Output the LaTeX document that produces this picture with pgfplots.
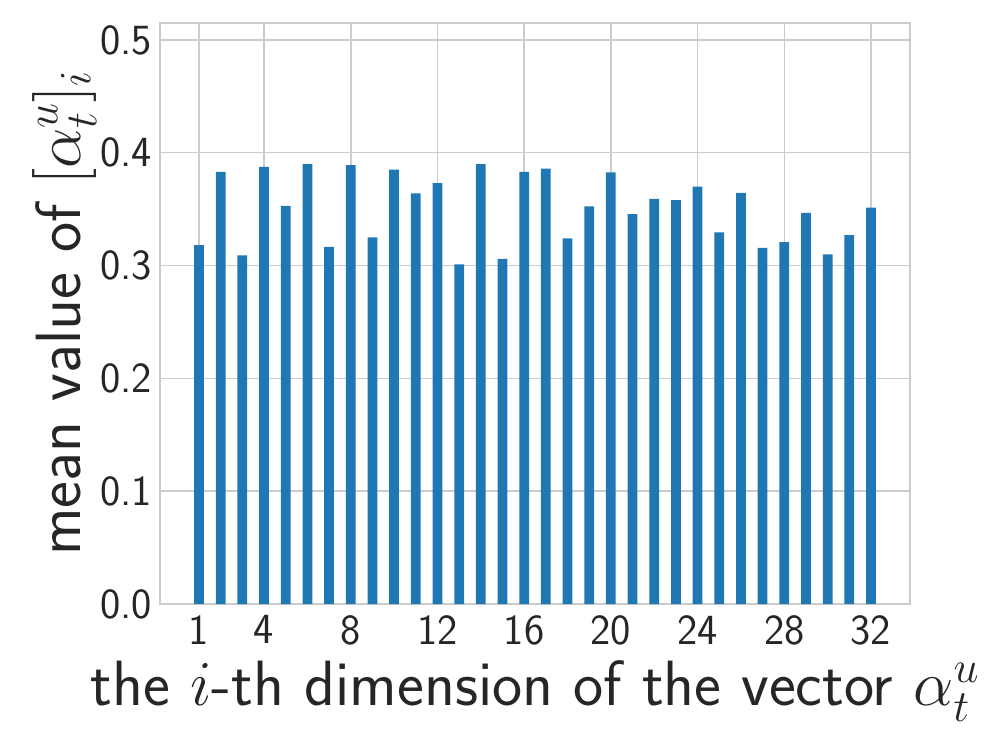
\RequirePackage{fix-cm}
\documentclass[border=0pt]{standalone}
\usepackage{pgfplots}
\pgfplotsset{compat=1.18}
\usetikzlibrary{calc}
\definecolor{barblue}{HTML}{1F77B4}
\definecolor{gridgray}{HTML}{CCCCCC}
\definecolor{txt}{HTML}{262626}
\begin{document}
\begin{tikzpicture}
\begin{axis}[
    name=ax,
    width=750pt, height=581pt, scale only axis,
    xmin=-0.8, xmax=33.8, ymin=0, ymax=0.515,
    ybar, bar width=0.45,
    xtick={1,4,8,12,16,20,24,28,32},
    ytick={0,0.1,0.2,0.3,0.4,0.5},
    yticklabel style={/pgf/number format/fixed, /pgf/number format/fixed zerofill,
        /pgf/number format/precision=1, inner sep=0pt, xshift=-8pt},
    major tick length=0pt,
    grid=major,
    grid style={gridgray, line width=1.5pt},
    axis line style={gridgray, line width=1.5pt},
    tick label style={font=\fontsize{43}{50}\selectfont\sffamily, text=txt},
    /pgf/number format/assume math mode=true,
    xticklabel style={inner sep=0pt, yshift=-11pt},
    xlabel={the $i$-th dimension of the vector $\alpha_t^u$},
    ylabel={mean value of $[\alpha_t^u]_i$},
    label style={font=\fontsize{64}{70}\selectfont\sffamily, text=txt},
    xlabel style={yshift=-12pt},
]
\addplot[fill=barblue, draw=none] coordinates {
    (1,0.318) (2,0.383) (3,0.309) (4,0.3875) (5,0.353) (6,0.390) (7,0.3165) (8,0.389)
    (9,0.325) (10,0.385) (11,0.364) (12,0.373) (13,0.301) (14,0.390) (15,0.306) (16,0.383)
    (17,0.386) (18,0.324) (19,0.3525) (20,0.3825) (21,0.3455) (22,0.359) (23,0.358) (24,0.370)
    (25,0.3295) (26,0.3645) (27,0.3157) (28,0.3208) (29,0.3466) (30,0.310) (31,0.327) (32,0.3513)
};
\end{axis}
\pgfresetboundingbox
\path[use as bounding box] ($(ax.south west)+(-160pt,-143pt)$) rectangle ($(ax.north east)+(86pt,23pt)$);
\end{tikzpicture}
\end{document}
